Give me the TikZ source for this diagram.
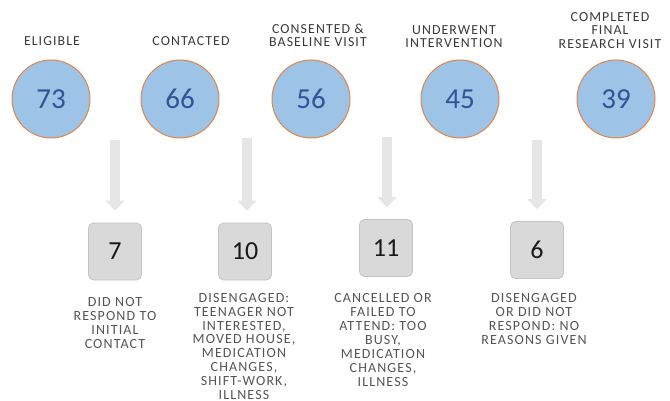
\documentclass[tikz,border=0pt]{standalone}
\usepackage{fontspec}
\setmainfont{Carlito}
\newfontfamily\spaced[LetterSpace=8]{Carlito}
\usetikzlibrary{arrows.meta}
\definecolor{cfill}{HTML}{9DC3E6}
\definecolor{cedge}{HTML}{E0864A}
\definecolor{cnum}{HTML}{2F5597}
\definecolor{bfill}{HTML}{D9D9D9}
\definecolor{bedge}{HTML}{C4C4C4}
\definecolor{arr}{HTML}{E6E6E6}
\definecolor{toptxt}{HTML}{3A3A3A}
\definecolor{bottxt}{HTML}{555555}
\begin{document}
\begin{tikzpicture}[x=1pt,y=-1pt,
 stage/.style={circle, draw=cedge, line width=1pt, fill=cfill, minimum size=78pt, inner sep=0pt, text=cnum, font=\fontsize{29}{29}\selectfont},
 drop/.style={rounded corners=5pt, draw=bedge, line width=0.8pt, fill=bfill, minimum width=53pt, minimum height=57pt, inner sep=0pt, text=black!90, font=\fontsize{26}{26}\selectfont},
 toplabel/.style={align=center, text=toptxt, inner sep=0pt, anchor=south, font=\spaced\fontsize{13.8}{13.5}\selectfont},
 reason/.style={align=center, text=bottxt, inner sep=0pt, anchor=north, font=\spaced\fontsize{14}{13.9}\selectfont},
 flow/.style={draw=arr, line width=10pt, -{Triangle[width=19pt,length=10pt]}, shorten >=12pt}
]
\useasboundingbox (0,0) rectangle (670,401);
% stages
\node[stage] (s1) at (51,99) {73};
\node[stage] (s2) at (180,99) {66};
\node[stage] (s3) at (311,99) {56};
\node[stage] (s4) at (460,99) {45};
\node[stage] (s5) at (616,99) {39};
% top labels
\node[toplabel] (t1) at (52,46) {ELIGIBLE};
\node[toplabel] (t2) at (191,46) {CONTACTED};
\node[toplabel] (t3) at (318,47) {CONSENTED \&\\BASELINE VISIT};
\node[toplabel] (t4) at (454,48) {UNDERWENT\\INTERVENTION};
\node[toplabel] (t5) at (610,48.5) {COMPLETED\\FINAL\\RESEARCH VISIT};
% drop-out boxes
\node[drop] (b1) at (115,251.5) {7};
\node[drop] (b2) at (245,251.5) {10};
\node[drop] (b3) at (386,248) {11};
\node[drop] (b4) at (537,250) {6};
% arrows
\coordinate (a1) at (115,140);
\coordinate (a2) at (247,138);
\coordinate (a3) at (387,137);
\coordinate (a4) at (537,140);
\draw[flow] (a1) -- (b1.north);
\draw[flow] (a2) -- (b2.north -| a2);
\draw[flow] (a3) -- (b3.north -| a3);
\draw[flow] (a4) -- (b4.north);
% reasons
\node[reason] (r1) at (115,297.5) {DID NOT\\RESPOND TO\\INITIAL\\CONTACT};
\node[reason] (r2) at (244,293) {DISENGAGED:\\TEENAGER NOT\\INTERESTED,\\MOVED HOUSE,\\MEDICATION\\CHANGES,\\SHIFT-WORK,\\ILLNESS};
\node[reason] (r3) at (383,293.5) {CANCELLED OR\\FAILED TO\\ATTEND: TOO\\BUSY,\\MEDICATION\\CHANGES,\\ILLNESS};
\node[reason] (r4) at (534,293.5) {DISENGAGED\\OR DID NOT\\RESPOND: NO\\REASONS GIVEN};
\end{tikzpicture}
\end{document}
